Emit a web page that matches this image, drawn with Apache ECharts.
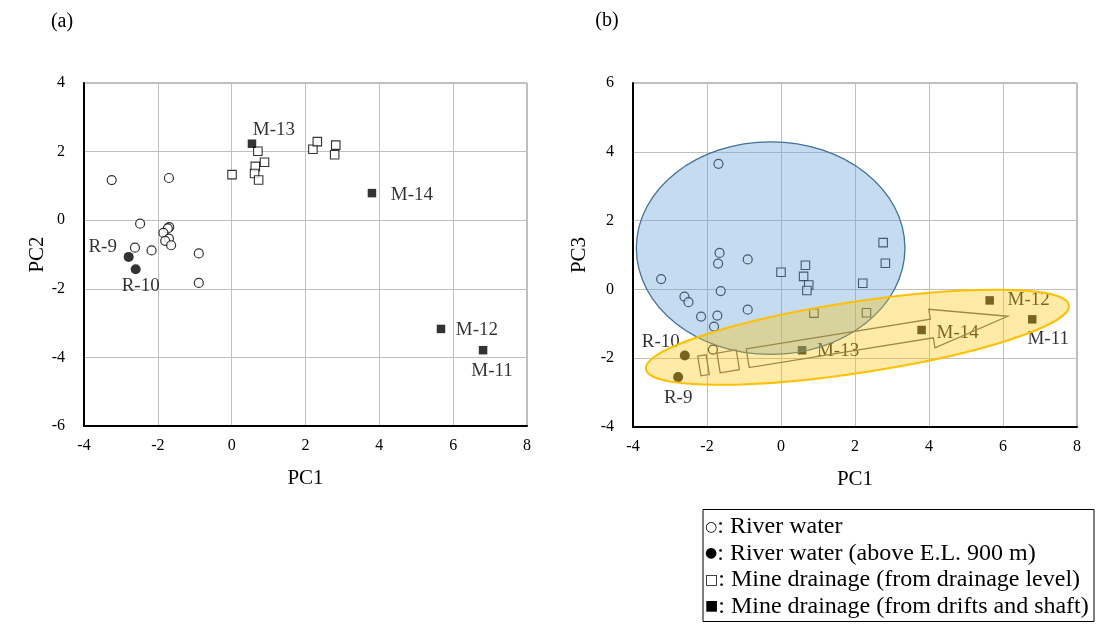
<!DOCTYPE html>
<html>
<head>
<meta charset="utf-8">
<script src="https://cdn.jsdelivr.net/npm/echarts@6/dist/echarts.min.js"></script>
<style>html,body{margin:0;padding:0;background:#fff}#c{width:1099px;height:625px}</style>
</head>
<body>
<div id="c"></div>
<script>
// ---------------- data ----------------
// Panel (a): PC1 vs PC2
const riverA_pc1 = [-3.25, -1.70, -2.48, -1.69, -1.73, -1.85, -1.70, -1.80, -1.64, -2.62, -2.17, -0.89, -0.89];
const riverA_pc2 = [1.17, 1.23, -0.10, -0.20, -0.24, -0.37, -0.54, -0.60, -0.73, -0.80, -0.88, -0.97, -1.83];
const upperNames = ['R-9', 'R-10'];
const upperA_pc1 = [-2.79, -2.60];
const upperA_pc2 = [-1.07, -1.43];
const levelA_pc1 = [0.01, 0.71, 0.64, 0.62, 0.73, 0.89, 2.20, 2.32, 2.82, 2.79];
const levelA_pc2 = [1.33, 2.01, 1.57, 1.36, 1.17, 1.69, 2.07, 2.29, 2.19, 1.91];
const driftNames = ['M-11', 'M-12', 'M-13', 'M-14'];
const driftA_pc1 = [6.81, 5.67, 0.55, 3.80];
const driftA_pc2 = [-3.79, -3.17, 2.23, 0.79];

// Panel (b): PC1 vs PC3
const riverB_pc1 = [-1.69, -1.66, -1.70, -0.90, -3.24, -1.63, -2.61, -2.50, -2.16, -1.72, -0.90, -1.81, -1.84];
const riverB_pc3 = [3.65, 1.06, 0.75, 0.87, 0.30, -0.05, -0.21, -0.37, -0.79, -0.76, -0.59, -1.08, -1.75];
const upperB_pc1 = [-2.78, -2.60];
const upperB_pc3 = [-2.55, -1.92];
const levelB_pc1 = [0.00, 0.66, 0.61, 0.75, 0.70, 0.89, 2.31, 2.21, 2.76, 2.82];
const levelB_pc3 = [0.50, 0.70, 0.38, 0.13, -0.03, -0.69, -0.68, 0.18, 1.36, 0.76];
const driftB_pc1 = [6.79, 5.64, 0.57, 3.80];
const driftB_pc3 = [-0.87, -0.32, -1.77, -1.18];

// axes
const xTicks = {min: -4, max: 8, interval: 2};
const yTicksA = {min: -6, max: 4, interval: 2};
const yTicksB = {min: -4, max: 6, interval: 2};
const panelTitles = ['(a)', '(b)'];
const axisNames = {x: 'PC1', yA: 'PC2', yB: 'PC3'};
const legendSymbols = ['\u25CB', '\u25CF', '\u25A1', '\u25A0'];
const legendTexts = [
  ': River water',
  ': River water (above E.L. 900 m)',
  ': Mine drainage (from drainage level)',
  ': Mine drainage (from drifts and shaft)'
];

// annotations on panel (b), in data coordinates
const blueEllipse = {cx: -0.28, cy: 1.20, rx: 3.63, ry: 3.09};
const yellowEllipse = {p1: [-3.65, -2.32], p2: [7.78, -0.46]};
const flowArrow = {start: [-0.90, -2.00], tip: [6.13, -0.78]};

// ---------------- styles ----------------
const FONT = 'Liberation Serif';
const labelOffsets = {
  a: {'M-11': [9, 21], 'M-12': [36, 1], 'M-13': [22, -14], 'M-14': [40, 2], 'R-9': [-26, -10], 'R-10': [5, 17]},
  b: {'M-11': [16, 20], 'M-12': [39, 0], 'M-13': [36, 1], 'M-14': [36, 3], 'R-9': [0, 21], 'R-10': [-24, -13]}
};

function pts(xs, ys) { return xs.map((x, i) => [x, ys[i]]); }
function named(names, xs, ys, panel) {
  return names.map((n, i) => ({
    value: [xs[i], ys[i]], name: n,
    label: {show: true, formatter: n, position: 'inside', offset: labelOffsets[panel][n],
      color: '#000', fontFamily: FONT, fontSize: 19}
  }));
}
const openCircle = {symbol: 'circle', symbolSize: 9, itemStyle: {color: '#fff', borderColor: '#000', borderWidth: 1.2}};
const fullCircle = {symbol: 'circle', symbolSize: 10, itemStyle: {color: '#000', borderColor: '#000', borderWidth: 0}};
const openSquare = {symbol: 'rect', symbolSize: 8.5, itemStyle: {color: '#fff', borderColor: '#000', borderWidth: 1.1}};
const fullSquare = {symbol: 'rect', symbolSize: 8.5, itemStyle: {color: '#000', borderColor: '#000', borderWidth: 0}};

function xAxis(gi) {
  return {
    type: 'value', gridIndex: gi, ...xTicks,
    name: axisNames.x, nameLocation: 'middle', nameGap: 42,
    nameTextStyle: {fontFamily: FONT, fontSize: 21, color: '#000'},
    axisLine: {show: true, onZero: false, lineStyle: {color: '#000', width: 2}},
    axisTick: {show: false},
    axisLabel: {fontFamily: FONT, fontSize: 16, color: '#000', margin: 12},
    splitLine: {show: true, lineStyle: {color: '#c0c0c0', width: 1}}
  };
}
function yAxis(gi, ticks, name, gap) {
  return {
    type: 'value', gridIndex: gi, ...ticks,
    name: name, nameLocation: 'middle', nameGap: gap, nameRotate: 90,
    nameTextStyle: {fontFamily: FONT, fontSize: 21, color: '#000'},
    axisLine: {show: true, onZero: false, lineStyle: {color: '#000', width: 2}},
    axisTick: {show: false},
    axisLabel: {fontFamily: FONT, fontSize: 16, color: '#000', margin: 19},
    splitLine: {show: true, lineStyle: {color: '#c0c0c0', width: 1}}
  };
}

const chart = echarts.init(document.getElementById('c'), null, {renderer: 'canvas'});
const silent = {silent: true, animation: false};
chart.setOption({
  animation: false,
  backgroundColor: '#fff',
  grid: [
    {left: 84, top: 83, width: 443, height: 343, show: true, borderColor: '#808080', borderWidth: 1},
    {left: 633, top: 83, width: 444, height: 344, show: true, borderColor: '#808080', borderWidth: 1}
  ],
  xAxis: [xAxis(0), xAxis(1)],
  yAxis: [yAxis(0, yTicksA, axisNames.yA, 35), yAxis(1, yTicksB, axisNames.yB, 43)],
  series: [
    {type: 'scatter', xAxisIndex: 0, yAxisIndex: 0, data: pts(riverA_pc1, riverA_pc2), ...openCircle, ...silent},
    {type: 'scatter', xAxisIndex: 0, yAxisIndex: 0, data: named(upperNames, upperA_pc1, upperA_pc2, 'a'), ...fullCircle, ...silent},
    {type: 'scatter', xAxisIndex: 0, yAxisIndex: 0, data: pts(levelA_pc1, levelA_pc2), ...openSquare, ...silent},
    {type: 'scatter', xAxisIndex: 0, yAxisIndex: 0, data: named(driftNames, driftA_pc1, driftA_pc2, 'a'), ...fullSquare, ...silent},
    {type: 'scatter', xAxisIndex: 1, yAxisIndex: 1, data: pts(riverB_pc1, riverB_pc3), ...openCircle, ...silent},
    {type: 'scatter', xAxisIndex: 1, yAxisIndex: 1, data: named(upperNames, upperB_pc1, upperB_pc3, 'b'), ...fullCircle, ...silent},
    {type: 'scatter', xAxisIndex: 1, yAxisIndex: 1, data: pts(levelB_pc1, levelB_pc3), ...openSquare, ...silent},
    {type: 'scatter', xAxisIndex: 1, yAxisIndex: 1, data: named(driftNames, driftB_pc1, driftB_pc3, 'b'), ...fullSquare, ...silent}
  ]
});

// ---------------- annotations (positioned via the axes) ----------------
const toPx = p => chart.convertToPixel({xAxisIndex: 1, yAxisIndex: 1}, p);
const gfx = [];

// blue ellipse
const bc = toPx([blueEllipse.cx, blueEllipse.cy]);
const bx = toPx([blueEllipse.cx + blueEllipse.rx, blueEllipse.cy]);
const by = toPx([blueEllipse.cx, blueEllipse.cy + blueEllipse.ry]);
gfx.push({type: 'ellipse', z: 100, silent: true,
  shape: {cx: bc[0], cy: bc[1], rx: bx[0] - bc[0], ry: bc[1] - by[1]},
  style: {fill: 'rgba(91,155,213,0.36)', stroke: '#41719c', lineWidth: 1.3}});

// arrow and two blocks
const a0 = toPx(flowArrow.start), a1 = toPx(flowArrow.tip);
const ang = Math.atan2(-(a1[1] - a0[1]), a1[0] - a0[0]);
const L = Math.hypot(a1[0] - a0[0], a1[1] - a0[1]);
const c = Math.cos(ang), s = Math.sin(ang);
const loc = (u, v) => [a0[0] + u * c + v * s, a0[1] - u * s + v * c];
const shaftEnd = L * 0.708, hs = 9.5, hh = 19.5;
const arrowPts = [[0, -hs], [shaftEnd, -hs], [shaftEnd, -hh], [L, 0], [shaftEnd, hh], [shaftEnd, hs], [0, hs]].map(p => loc(p[0], p[1]));
const blockStyle = {fill: 'none', stroke: '#6b6b6b', lineWidth: 1.3};
gfx.push({type: 'polygon', z: 101, silent: true, shape: {points: arrowPts}, style: blockStyle});
[[-29.5, -10], [-49, -40.5]].forEach(r => {
  const q = [[r[0], -10], [r[1], -10], [r[1], 10], [r[0], 10]].map(p => loc(p[0], p[1]));
  gfx.push({type: 'polygon', z: 101, silent: true, shape: {points: q}, style: blockStyle});
});

// yellow ellipse
const y1 = toPx(yellowEllipse.p1), y2 = toPx(yellowEllipse.p2);
const yc = [(y1[0] + y2[0]) / 2, (y1[1] + y2[1]) / 2];
const yAng = Math.atan2(-(y2[1] - y1[1]), y2[0] - y1[0]);
const yRx = Math.hypot(y2[0] - y1[0], y2[1] - y1[1]) / 2;
gfx.push({type: 'ellipse', z: 102, silent: true, x: yc[0], y: yc[1], rotation: yAng,
  shape: {cx: 0, cy: 0, rx: yRx, ry: 35.6},
  style: {fill: 'rgba(255,192,0,0.34)', stroke: '#ffc000', lineWidth: 2}});

// panel titles
gfx.push({type: 'text', z: 110, x: 62, y: 22, style: {text: panelTitles[0], fontFamily: FONT, fontSize: 20, fill: '#000', align: 'center', verticalAlign: 'middle'}});
gfx.push({type: 'text', z: 110, x: 607, y: 21, style: {text: panelTitles[1], fontFamily: FONT, fontSize: 20, fill: '#000', align: 'center', verticalAlign: 'middle'}});

// legend box
gfx.push({type: 'rect', z: 110, shape: {x: 703, y: 509.5, width: 391, height: 112},
  style: {fill: '#fff', stroke: '#000', lineWidth: 1}});
legendTexts.forEach((t, i) => {
  gfx.push({type: 'text', z: 111, x: 705, y: 527 + i * 26.6,
    style: {text: '{s|' + legendSymbols[i] + '}{t|' + t + '}', align: 'left', verticalAlign: 'middle',
      rich: {
        s: {fontFamily: 'DejaVu Sans', fontSize: 14, fill: '#000', color: '#000', verticalAlign: 'middle'},
        t: {fontFamily: FONT, fontSize: 24, fill: '#000', color: '#000', verticalAlign: 'middle'}
      }}});
});

chart.setOption({graphic: gfx});
</script>
</body>
</html>
